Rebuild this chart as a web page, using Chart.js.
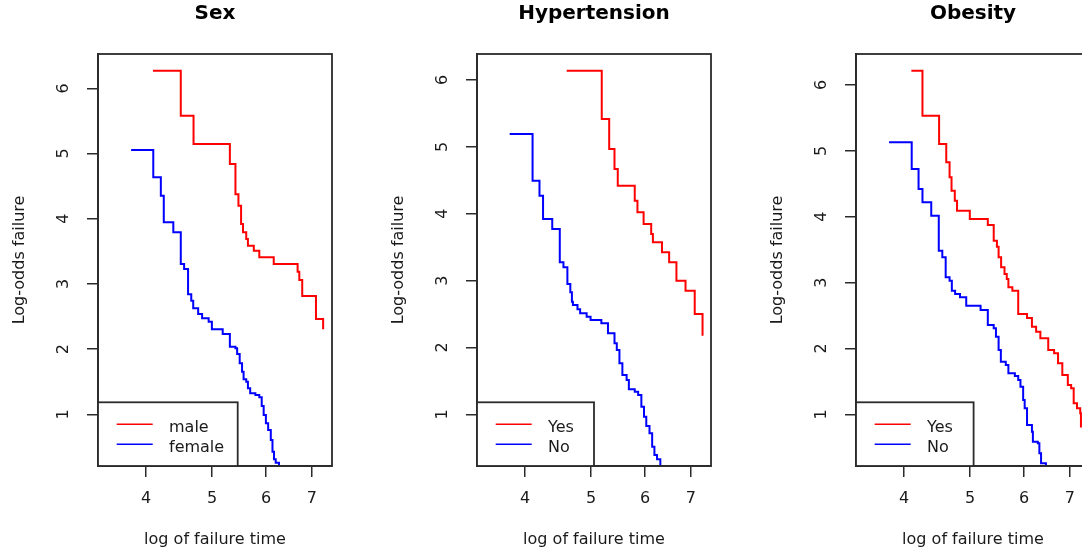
<!DOCTYPE html>
<html>
<head>
<meta charset="utf-8">
<script src="https://cdn.jsdelivr.net/npm/chart.js@4.4.1/dist/chart.umd.min.js"></script>
<style>
    html, body { margin: 0; padding: 0; background: #fff; overflow: hidden; width: 1082px; height: 556px; }
    canvas { position: absolute; top: 0; }
</style>
</head>
<body>
<canvas id="sexChart" width="370" height="556" style="left:0px"></canvas>
<canvas id="hypChart" width="370" height="556" style="left:379px"></canvas>
<canvas id="obChart" width="370" height="556" style="left:758px"></canvas>
<script>
// panel titles, legend labels, ticks
const panelTitles = ['Sex', 'Hypertension', 'Obesity'];
const sexLabels = ['male', 'female'];
const yesNoLabels = ['Yes', 'No'];
const xTicks = [4, 5, 6, 7];
const yTicks = [1, 2, 3, 4, 5, 6];

// Sex: log of failure time (x) vs log-odds failure (y), step curves
const maleX = [4.094, 4.497, 4.695, 5.308, 5.409, 5.464, 5.513, 5.549, 5.610, 5.642, 5.755, 5.863, 6.156, 6.673, 6.711, 6.778, 7.100, 7.274];
const maleY = [6.27, 5.58, 5.146, 4.839, 4.374, 4.199, 3.919, 3.791, 3.689, 3.586, 3.509, 3.408, 3.305, 3.187, 3.060, 2.814, 2.462, 2.304];
const femaleX = [3.802, 4.098, 4.204, 4.246, 4.385, 4.497, 4.548, 4.609, 4.659, 4.690, 4.769, 4.833, 4.941, 4.995, 5.181, 5.308, 5.409, 5.440, 5.487, 5.531, 5.560, 5.610, 5.642, 5.685, 5.786, 5.863, 5.911, 5.950, 5.995, 6.041, 6.095, 6.130, 6.162, 6.197, 6.266];
const femaleY = [5.054, 4.635, 4.353, 3.945, 3.791, 3.305, 3.229, 2.840, 2.742, 2.626, 2.538, 2.472, 2.420, 2.304, 2.232, 2.037, 2.012, 1.925, 1.782, 1.653, 1.537, 1.500, 1.399, 1.322, 1.296, 1.261, 1.127, 0.989, 0.862, 0.759, 0.606, 0.426, 0.310, 0.258, 0.19];

// Hypertension
const hypYesX = [4.603, 5.182, 5.314, 5.410, 5.470, 5.793, 5.846, 5.969, 6.124, 6.159, 6.351, 6.507, 6.669, 6.877, 7.094, 7.284];
const hypYesY = [6.139, 5.417, 4.968, 4.669, 4.419, 4.195, 4.021, 3.846, 3.697, 3.573, 3.423, 3.273, 2.998, 2.849, 2.500, 2.176];
const hypNoX = [3.797, 4.102, 4.199, 4.250, 4.384, 4.497, 4.553, 4.614, 4.660, 4.685, 4.701, 4.774, 4.817, 4.924, 4.990, 5.175, 5.292, 5.410, 5.452, 5.501, 5.556, 5.636, 5.679, 5.793, 5.860, 5.924, 5.977, 6.023, 6.089, 6.144, 6.191, 6.246, 6.316];
const hypNoY = [5.192, 4.494, 4.270, 3.921, 3.771, 3.273, 3.199, 2.949, 2.825, 2.684, 2.635, 2.570, 2.511, 2.460, 2.410, 2.361, 2.211, 2.062, 1.962, 1.763, 1.588, 1.513, 1.374, 1.338, 1.289, 1.114, 0.964, 0.825, 0.716, 0.515, 0.391, 0.327, 0.21];

// Obesity
const obYesX = [4.099, 4.256, 4.502, 4.612, 4.664, 4.695, 4.747, 4.783, 4.994, 5.307, 5.414, 5.473, 5.504, 5.551, 5.615, 5.658, 5.689, 5.766, 5.881, 6.059, 6.160, 6.248, 6.338, 6.509, 6.639, 6.728, 6.826, 6.954, 7.032, 7.093, 7.173, 7.252, 7.269];
const obYesY = [6.217, 5.534, 5.104, 4.826, 4.599, 4.395, 4.243, 4.091, 3.965, 3.874, 3.636, 3.545, 3.384, 3.232, 3.130, 3.054, 2.928, 2.877, 2.523, 2.462, 2.330, 2.254, 2.154, 1.976, 1.926, 1.774, 1.597, 1.445, 1.395, 1.167, 1.091, 1.015, 0.80];
const obNoX = [3.802, 4.104, 4.200, 4.256, 4.384, 4.497, 4.551, 4.603, 4.664, 4.700, 4.752, 4.831, 4.934, 5.179, 5.307, 5.414, 5.455, 5.504, 5.546, 5.639, 5.689, 5.815, 5.881, 5.926, 5.980, 6.011, 6.059, 6.160, 6.180, 6.284, 6.317, 6.353, 6.458];
const obNoY = [5.130, 4.725, 4.421, 4.219, 4.016, 3.484, 3.384, 3.080, 3.029, 2.877, 2.827, 2.776, 2.649, 2.584, 2.356, 2.306, 2.178, 1.976, 1.799, 1.749, 1.623, 1.582, 1.521, 1.419, 1.217, 1.091, 0.838, 0.736, 0.584, 0.560, 0.408, 0.256, 0.15];

const lineColors = ['#ff0000', '#0000ff'];
const ink = '#1a1a1a';
const frameColor = '#2b2b2b';

Chart.defaults.font.family = '"DejaVu Sans", sans-serif';
Chart.defaults.color = ink;

// box round the plot, rotated y tick labels and the R-style legend
const rDecor = {
    id: 'rDecor',
    afterDraw(chart, args, opts) {
        const ctx = chart.ctx;
        const area = chart.chartArea;
        ctx.save();
        ctx.strokeStyle = frameColor;
        ctx.lineWidth = 1.8;
        ctx.strokeRect(area.left, area.top, area.right - area.left, area.bottom - area.top);

        ctx.fillStyle = ink;
        ctx.font = '16px "DejaVu Sans"';
        ctx.textAlign = 'center';
        ctx.textBaseline = 'middle';
        yTicks.forEach(v => {
            const y = chart.scales.y.getPixelForValue(v);
            ctx.save();
            ctx.translate(area.left - 34, y);
            ctx.rotate(-Math.PI / 2);
            ctx.fillText(String(v), 0, 0);
            ctx.restore();
        });

        // legend
        const lx = area.left, ly = area.bottom - 63.7;
        ctx.fillStyle = '#fff';
        ctx.fillRect(lx, ly, opts.width, 63.7);
        ctx.strokeRect(lx, ly, opts.width, 63.7);
        chart.data.datasets.forEach((ds, i) => {
            const y = ly + 22 + i * 20;
            ctx.strokeStyle = ds.borderColor;
            ctx.lineWidth = 1.4;
            ctx.beginPath();
            ctx.moveTo(lx + 18.7, y);
            ctx.lineTo(lx + 54.7, y);
            ctx.stroke();
            ctx.fillStyle = ink;
            ctx.textAlign = 'left';
            ctx.textBaseline = 'alphabetic';
            ctx.fillText(ds.label, lx + 71, y + 7.5);
        });
        ctx.restore();
    }
};

function makePanel(id, title, labels, series, yMin, yMax, legendWidth) {
    const ctx = document.getElementById(id).getContext('2d');
    new Chart(ctx, {
        type: 'line',
        data: {
            datasets: series.map((s, i) => ({
                label: labels[i],
                data: s.x.map((v, j) => ({ x: v, y: s.y[j] })),
                borderColor: lineColors[i],
                borderWidth: 2,
                pointRadius: 0,
                stepped: 'before',
                fill: false
            }))
        },
        options: {
            responsive: false,
            animation: false,
            layout: { padding: { left: 0, right: 38, top: 0, bottom: 0 } },
            plugins: {
                legend: { display: false },
                tooltip: { enabled: false },
                title: {
                    display: true,
                    text: title,
                    fullSize: false,
                    color: '#000',
                    font: { size: 20, weight: 'bold' },
                    padding: { top: 1.5, bottom: 28.5 }
                },
                rDecor: { width: legendWidth }
            },
            scales: {
                x: {
                    type: 'logarithmic',
                    min: 3.448,
                    max: 7.495,
                    afterBuildTicks: scale => { scale.ticks = xTicks.map(v => ({ value: v })); },
                    afterFit: scale => { scale.height = 90; },
                    ticks: {
                        callback: v => String(v),
                        font: { size: 16 },
                        color: ink,
                        padding: 12,
                        maxRotation: 0,
                        autoSkip: false
                    },
                    grid: { drawOnChartArea: false, tickLength: 11, color: frameColor, lineWidth: 1.5 },
                    border: { color: frameColor, width: 1.8 },
                    title: {
                        display: true,
                        text: 'log of failure time',
                        font: { size: 16 },
                        color: ink,
                        padding: { top: 0, bottom: 6.4 }
                    }
                },
                y: {
                    min: yMin,
                    max: yMax,
                    afterBuildTicks: scale => { scale.ticks = yTicks.map(v => ({ value: v })); },
                    afterFit: scale => { scale.width = 98; },
                    ticks: { display: false },
                    grid: { drawOnChartArea: false, tickLength: 11, color: frameColor, lineWidth: 1.5 },
                    border: { color: frameColor, width: 1.8 },
                    title: {
                        display: true,
                        text: 'Log-odds failure',
                        font: { size: 16 },
                        color: ink,
                        padding: { top: 10.4, bottom: 0 }
                    }
                }
            }
        },
        plugins: [rDecor]
    });
}

makePanel('sexChart', panelTitles[0], sexLabels,
    [{ x: maleX, y: maleY }, { x: femaleX, y: femaleY }], 0.207, 6.526, 139.7);
makePanel('hypChart', panelTitles[1], yesNoLabels,
    [{ x: hypYesX, y: hypYesY }, { x: hypNoX, y: hypNoY }], 0.227, 6.389, 117);
makePanel('obChart', panelTitles[2], yesNoLabels,
    [{ x: obYesX, y: obYesY }, { x: obNoX, y: obNoY }], 0.215, 6.471, 117.6);
</script>
</body>
</html>
